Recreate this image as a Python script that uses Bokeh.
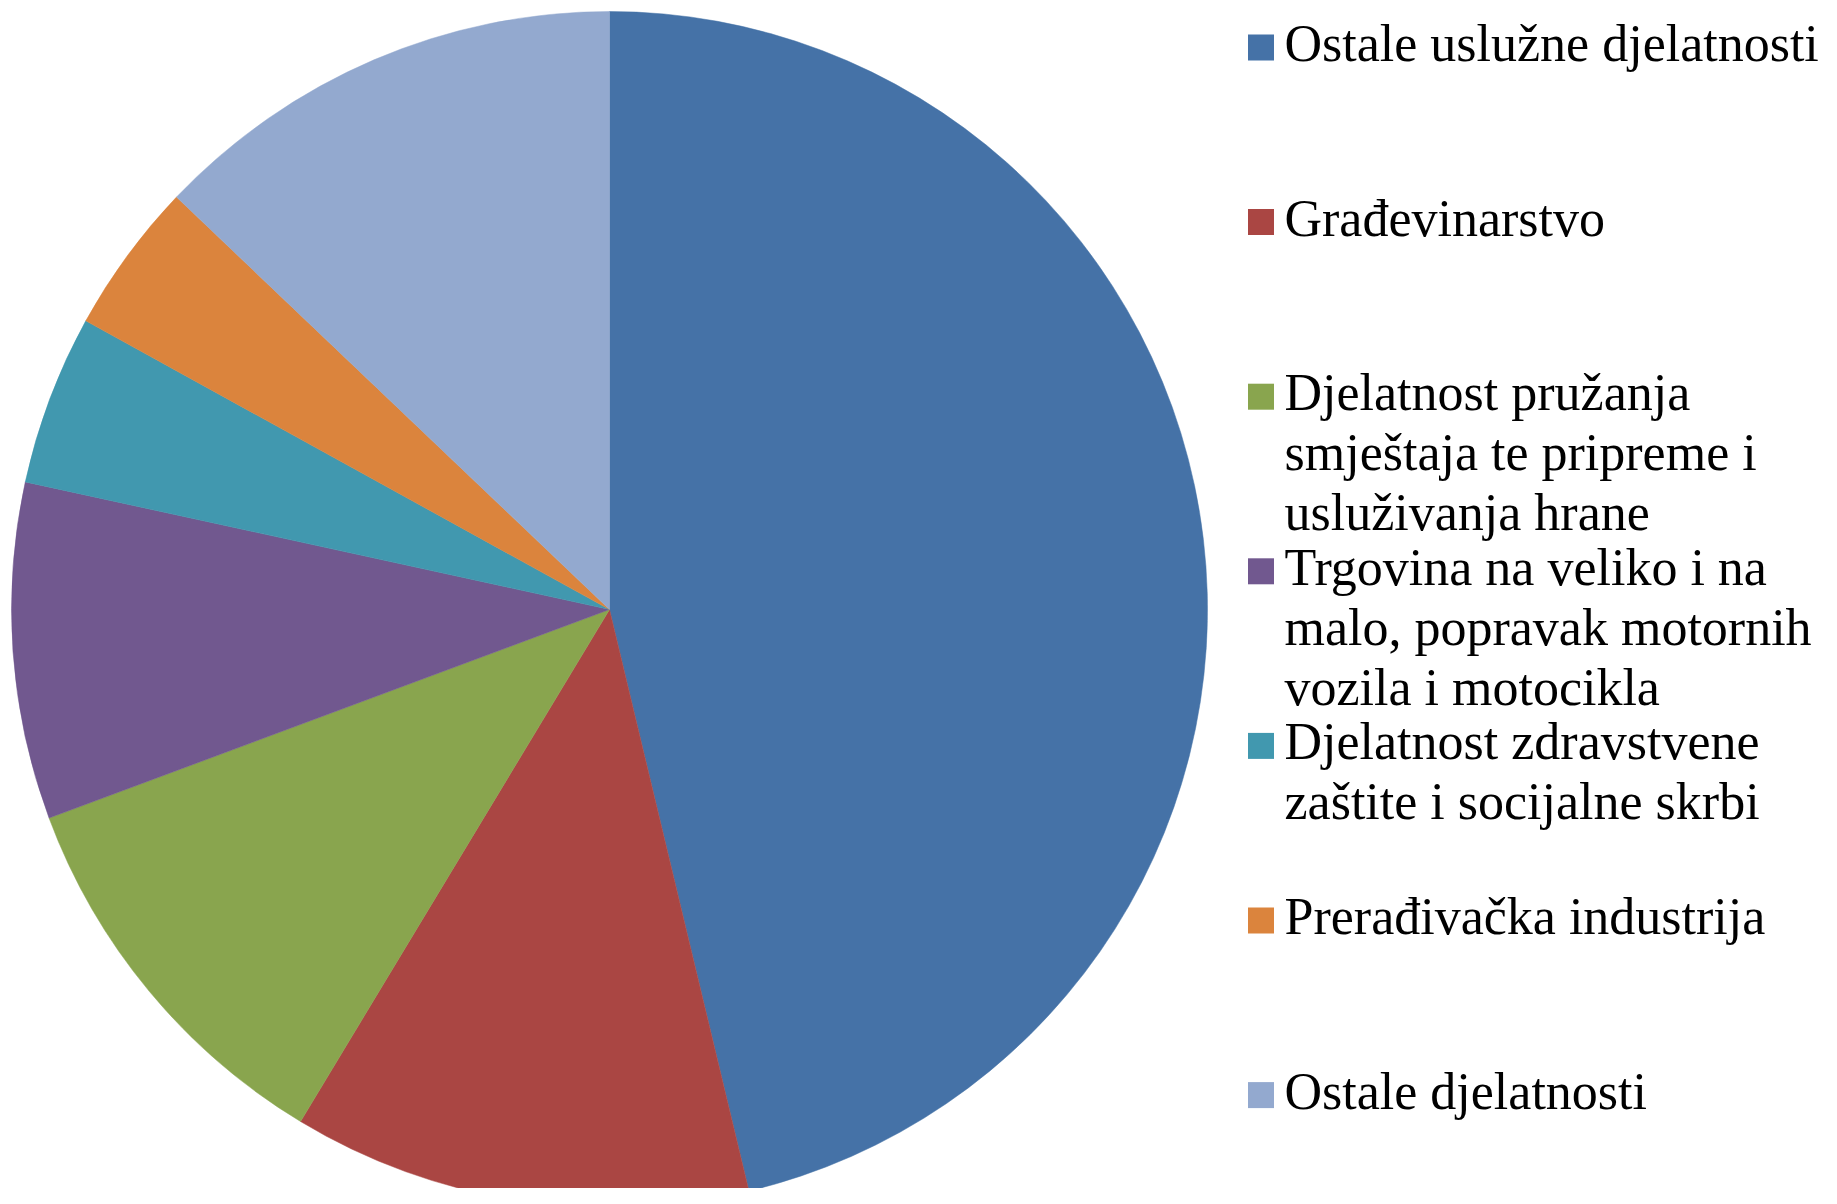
import numpy as np
from bokeh.plotting import figure
from bokeh.models import Range1d, ColumnDataSource
from bokeh.core.properties import value
from bokeh.embed import file_html
from bokeh.resources import INLINE

# ---- data ----
categories = [
    "Ostale uslužne djelatnosti",
    "Građevinarstvo",
    "Djelatnost pružanja\nsmještaja te pripreme i\nusluživanja hrane",
    "Trgovina na veliko i na\nmalo, popravak motornih\nvozila i motocikla",
    "Djelatnost zdravstvene\nzaštite i socijalne skrbi",
    "Prerađivačka industrija",
    "Ostale djelatnosti",
]
shares = [46.3, 12.4, 10.7, 9.1, 4.6, 4.1, 12.9]
colors = ["#4572A7", "#AA4643", "#89A54E", "#71588F", "#4198AF", "#DB843D", "#93A9CF"]

# ---- layout ----
W, H = 1821, 1188
cx, cy_page = 609, 609
R = 598

p = figure(width=W, height=H, output_backend="svg", toolbar_location=None,
           x_range=Range1d(0, W), y_range=Range1d(0, H), min_border=0)
p.axis.visible = False
p.grid.visible = False
p.outline_line_color = None
p.background_fill_color = "white"
p.border_fill_color = "white"

def Y(page_y):
    return H - page_y

vals = np.array(shares, dtype=float)
fr = vals / vals.sum()
cum = np.concatenate([[0], np.cumsum(fr)])
start = np.pi / 2 - cum[:-1] * 2 * np.pi
end = np.pi / 2 - cum[1:] * 2 * np.pi

src = ColumnDataSource(dict(start=start, end=end, color=colors))
p.wedge(x=cx, y=Y(cy_page), radius=R, start_angle="start", end_angle="end",
        direction="clock", fill_color="color", line_color="color", line_width=0.5,
        source=src)

# legend
sq_x = 1260.5
sq_size = 26
text_x = 1284
first_y = 47
step = 174.6
line_h = 60
lx, ly, lc = [], [], []
tx, ty, tt = [], [], []
for i, (lab, c) in enumerate(zip(categories, colors)):
    yc = first_y + i * step
    lx.append(sq_x); ly.append(Y(yc)); lc.append(c)
    for j, line in enumerate(lab.split("\n")):
        tx.append(text_x); ty.append(Y(yc - 4 + j * line_h)); tt.append(line)

p.rect(x=lx, y=ly, width=sq_size, height=sq_size, fill_color=lc, line_color=None)
p.text(x=tx, y=ty, text=tt, text_font=value("Liberation Serif"), text_font_size="52px",
       text_color="black", text_baseline="alphabetic", text_align="left")

open("out.html", "w").write(file_html(p, INLINE))
